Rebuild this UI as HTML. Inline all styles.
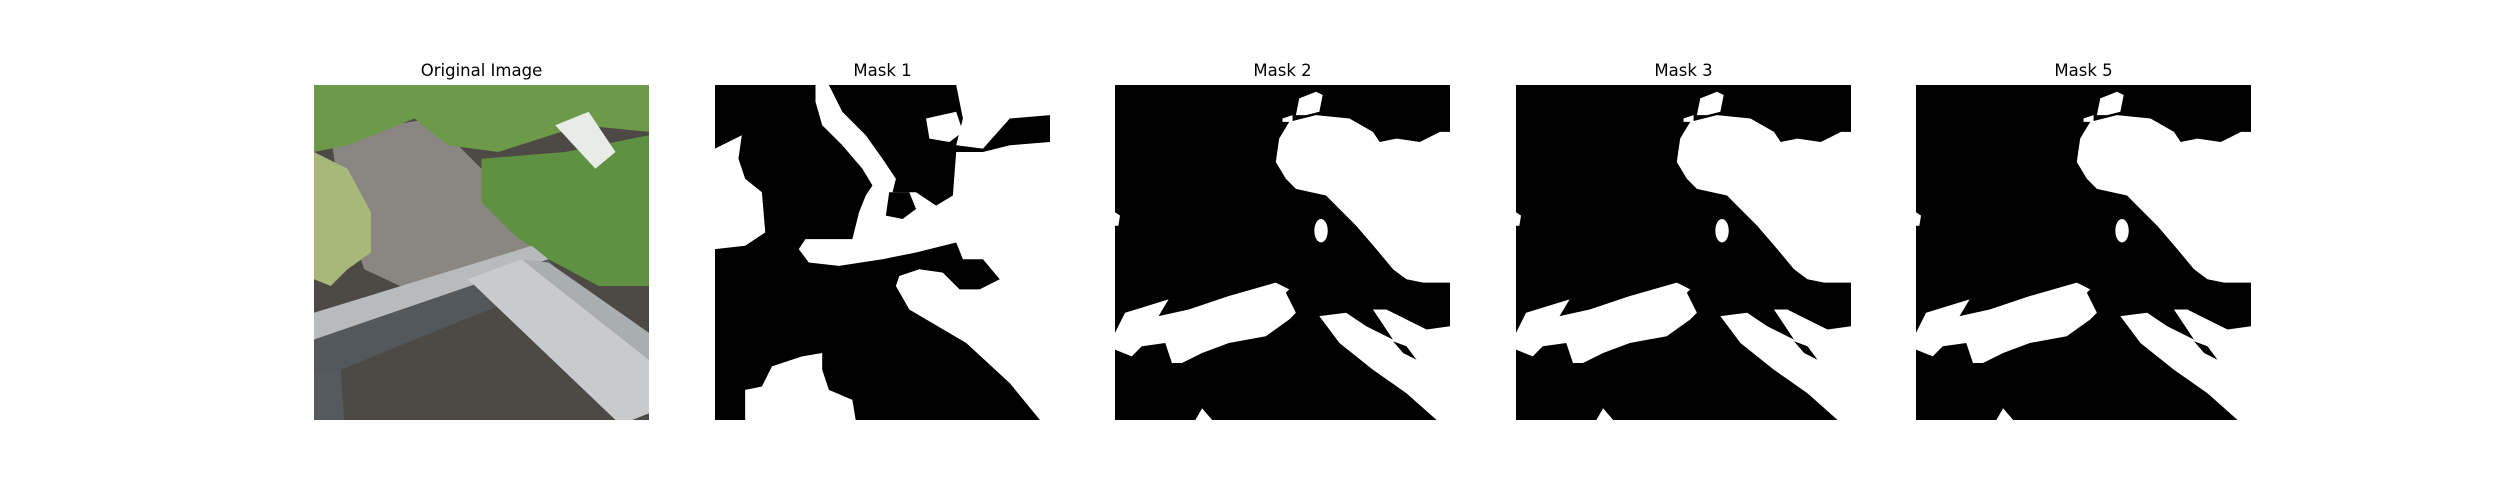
<!DOCTYPE html>
<html><head><meta charset="utf-8">
<style>
html,body{margin:0;padding:0;background:#fff;}
body{width:2500px;height:500px;position:relative;overflow:hidden;font-family:"DejaVu Sans","Liberation Sans",sans-serif;}
.panel{position:absolute;top:85px;width:335px;height:335px;background:#000;}
.title{position:absolute;top:60px;width:335px;text-align:center;font-size:16.5px;color:#000;line-height:22px;}
svg{display:block;}
</style></head>
<body>
<div class="title" style="left:314px">Original Image</div>
<div class="panel" style="left:314px;background:#4d4a45">
<svg width="335" height="335" viewBox="0 0 100 100" preserveAspectRatio="none"><g transform="scale(100)">
<polygon points="0.05,0.15 0.35,0.1 0.55,0.3 0.72,0.5 0.6,0.58 0.3,0.62 0.15,0.55 0.08,0.35" fill="#8a8782"/>
<polygon points="0,0 1,0 1,0.14 0.8,0.12 0.55,0.2 0.4,0.18 0.3,0.1 0.2,0.14 0.1,0.18 0,0.2" fill="#6c9a48"/>
<polygon points="0.5,0.22 0.75,0.2 1,0.15 1,0.6 0.85,0.6 0.7,0.52 0.6,0.45 0.5,0.35" fill="#5e9141"/>
<polygon points="0.72,0.12 0.82,0.08 0.9,0.2 0.84,0.25" fill="#e8ebe6"/>
<polygon points="0,0.2 0.1,0.25 0.17,0.38 0.17,0.5 0.1,0.55 0.05,0.6 0,0.58" fill="#a7b878"/>
<polygon points="0,0.68 0.65,0.48 0.7,0.52 0,0.76" fill="#b7bbbe"/>
<polygon points="0,0.76 0.7,0.52 0.75,0.58 0.3,0.76 0.08,0.85 0,0.86" fill="#53585c"/>
<polygon points="0,0.86 0.08,0.85 0.09,1 0,1" fill="#555a5e"/>
<polygon points="0.46,0.58 0.62,0.52 1,0.82 1,0.98 0.95,1 0.9,1" fill="#c8cacc"/>
<polygon points="0.62,0.52 0.7,0.53 1,0.74 1,0.82" fill="#a9aeb0"/>
</g></svg></div>

<div class="title" style="left:715px">Mask 1</div>
<div class="panel" style="left:715px">
<svg width="335" height="335" viewBox="0 0 100 100" preserveAspectRatio="none"><g transform="scale(100)">
<polygon fill="#fff" points="0,0.19 0.06,0.16 0.08,0.15 0.07,0.22 0.09,0.28 0.14,0.32 0.15,0.44 0.09,0.48 0,0.49"/>
<polygon fill="#fff" points="0.30,0 1,0 1,1 0.97,1 0.88,0.89 0.75,0.77 0.58,0.67 0.54,0.60 0.55,0.57 0.61,0.55 0.68,0.56 0.73,0.61 0.79,0.61 0.85,0.58 0.80,0.52 0.74,0.52 0.72,0.47 0.60,0.50 0.50,0.52 0.37,0.54 0.28,0.53 0.25,0.49 0.27,0.46 0.41,0.46 0.43,0.38 0.45,0.33 0.47,0.30 0.44,0.25 0.38,0.18 0.32,0.12 0.30,0.05"/>
<polygon fill="#000" points="0.34,0 0.72,0 0.74,0.1 0.72,0.18 0.80,0.19 0.88,0.10 1,0.09 1,0.17 0.88,0.18 0.80,0.20 0.72,0.20 0.71,0.33 0.66,0.36 0.60,0.32 0.53,0.32 0.54,0.28 0.50,0.22 0.45,0.15 0.38,0.08"/>
<polygon fill="#000" points="0.52,0.32 0.58,0.32 0.60,0.37 0.56,0.40 0.51,0.39"/>
<polygon fill="#fff" points="0.63,0.1 0.72,0.08 0.74,0.14 0.70,0.17 0.64,0.16"/>
<polygon fill="#fff" points="0.09,1 0.09,0.91 0.14,0.90 0.17,0.84 0.26,0.81 0.32,0.80 0.32,0.85 0.34,0.91 0.41,0.94 0.42,1"/>
</g></svg></div>

<div class="title" style="left:1115px">Mask 2</div>
<div class="panel mask" style="left:1115px"></div>

<div class="title" style="left:1516px">Mask 3</div>
<div class="panel mask" style="left:1516px"></div>

<div class="title" style="left:1916px">Mask 5</div>
<div class="panel mask" style="left:1916px"></div>

<script>
var maskSvg = '<svg width="335" height="335" viewBox="0 0 100 100" preserveAspectRatio="none"><g transform="scale(100)">' +
'<polygon fill="#fff" points="0.54,0.09 0.55,0.04 0.60,0.02 0.62,0.03 0.61,0.08 0.57,0.09"/>' +
'<polygon fill="#fff" points="0.50,0.10 0.53,0.09 0.53,0.11 0.50,0.11"/>' +
'<polygon fill="#fff" points="0.52,0.11 0.60,0.09 0.70,0.10 0.77,0.14 0.79,0.17 0.84,0.16 0.91,0.17 0.97,0.14 1,0.14 1,0.59 0.92,0.59 0.87,0.58 0.83,0.55 0.78,0.49 0.72,0.42 0.66,0.36 0.63,0.33 0.54,0.31 0.51,0.28 0.48,0.23 0.49,0.16"/>' +
'<ellipse fill="#fff" cx="0.615" cy="0.435" rx="0.02" ry="0.035"/>' +
'<polygon fill="#fff" points="0,0.38 0.015,0.39 0.01,0.42 0,0.42"/>' +
'<polygon fill="#fff" points="0,0.74 0.03,0.68 0.16,0.64 0.13,0.69 0.22,0.67 0.34,0.63 0.48,0.59 0.52,0.61 0.51,0.62 0.54,0.68 0.52,0.70 0.45,0.75 0.34,0.77 0.26,0.80 0.20,0.83 0.17,0.83 0.15,0.77 0.08,0.78 0.05,0.81 0,0.79"/>' +
'<polygon fill="#fff" points="0.61,0.69 0.69,0.68 0.75,0.72 0.83,0.76 0.77,0.67 0.81,0.67 0.89,0.71 0.93,0.73 1,0.72 1,1 0.96,1 0.87,0.92 0.77,0.85 0.67,0.77"/>' +
'<polygon fill="#000" points="0.83,0.765 0.87,0.78 0.90,0.82 0.86,0.80"/>' +
'<polygon fill="#fff" points="0.24,1 0.26,0.965 0.29,1"/>' +
'</g></svg>';
document.querySelectorAll('.mask').forEach(function(d){ d.innerHTML = maskSvg; });
</script>
</body></html>
